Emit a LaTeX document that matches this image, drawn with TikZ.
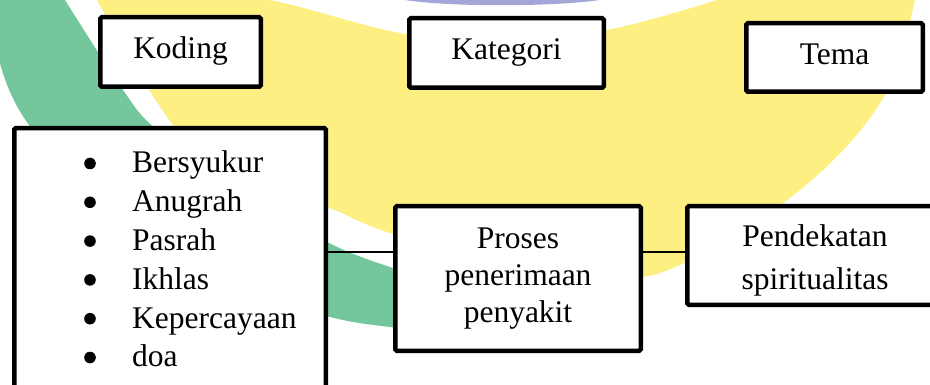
\documentclass[tikz,border=0pt]{standalone}
\usepackage{fontspec}
\setmainfont{Liberation Serif}
\usepackage{tikz}
\usetikzlibrary{positioning,calc}
\usepackage{xcolor}
\definecolor{wmgreen}{RGB}{116,199,156}
\definecolor{wmyellow}{RGB}{253,239,130}
\definecolor{wmblue}{RGB}{163,166,214}

\begin{document}
\begin{tikzpicture}[x=1pt, y=-1pt,
  box/.style={draw, line width=4.5pt, fill=white, rounded corners=1.5pt,
              inner sep=0pt, font=\fontsize{31.5}{38.8}\selectfont},
  head/.style={box, minimum height=69.5pt, text height=22pt, text depth=8pt},
  link/.style={line width=1.2pt}]
  \useasboundingbox (0,0) rectangle (930,385);
  \clip (0,0) rectangle (930,385);
  % latar: logo samar
  \fill[wmgreen] plot[smooth, tension=0.6] coordinates {(65,0) (123,90) (157,130) (240,192) (327,242) (390,267) (470,290)}
    -- (480,335)
    -- plot[smooth, tension=0.6] coordinates {(480,335) (390,327) (330,317) (240,290) (150,245) (33,130) (0,63)}
    -- (0,0) -- (65,0) -- cycle;
  \fill[wmyellow] plot[smooth, tension=0.6] coordinates {(97,0) (177,130) (250,176) (330,208) (390,233) (500,262) (610,277) (680,265) (800,190) (882,100) (915,0)}
    -- plot[smooth, tension=0.6] coordinates {(717,0) (607,30) (493,42) (400,33) (300,7) (270,0)}
    -- (97,0) -- cycle;
  \fill[wmblue] (405,0) .. controls (450,7) and (550,7) .. (600,0) -- cycle;
  % kotak judul
  \node[head, minimum width=160.5pt] (koding)   at (180.5,52)  {Koding};
  \node[head, minimum width=194.5pt] (kategori) at (506.5,53)  {Kategori};
  \node[head, minimum width=176.5pt, minimum height=68.5pt] (tema) at (834.5,57.5) {Tema};
  % kotak isi
  \node[box, minimum width=311.5pt, minimum height=291.75pt] (daftar) at (170,274) {};
  \node[anchor=base west, inner sep=0pt, font=\fontsize{31.5}{38.8}\selectfont] (butir) at (132,173)
    {\begin{tabular}[t]{@{}l@{}}
       Bersyukur\\ Anugrah\\ Pasrah\\ Ikhlas\\ Kepercayaan\\ doa
     \end{tabular}};
  \foreach \i in {0,...,5}
    \fill (90,{163.5+38.8*\i}) circle (5.8pt);
  \node[box, minimum width=245.5pt, minimum height=144.5pt, align=center,
        font=\fontsize{31.5}{36.8}\selectfont] (proses) at (518,278.5)
    {Proses\\penerimaan\\penyakit};
  \node[box, minimum width=255.5pt, minimum height=98.5pt, align=center,
        font=\fontsize{31.5}{42.7}\selectfont] (tema1) at (815,255.5)
    {\rule{0pt}{32pt}Pendekatan\\spiritualitas};
  % garis penghubung
  \coordinate (jalur) at (0,252);
  \draw[link] (daftar.east |- jalur) -- (proses.west |- jalur);
  \draw[link] (proses.east |- jalur) -- (tema1.west |- jalur);
\end{tikzpicture}
\end{document}
